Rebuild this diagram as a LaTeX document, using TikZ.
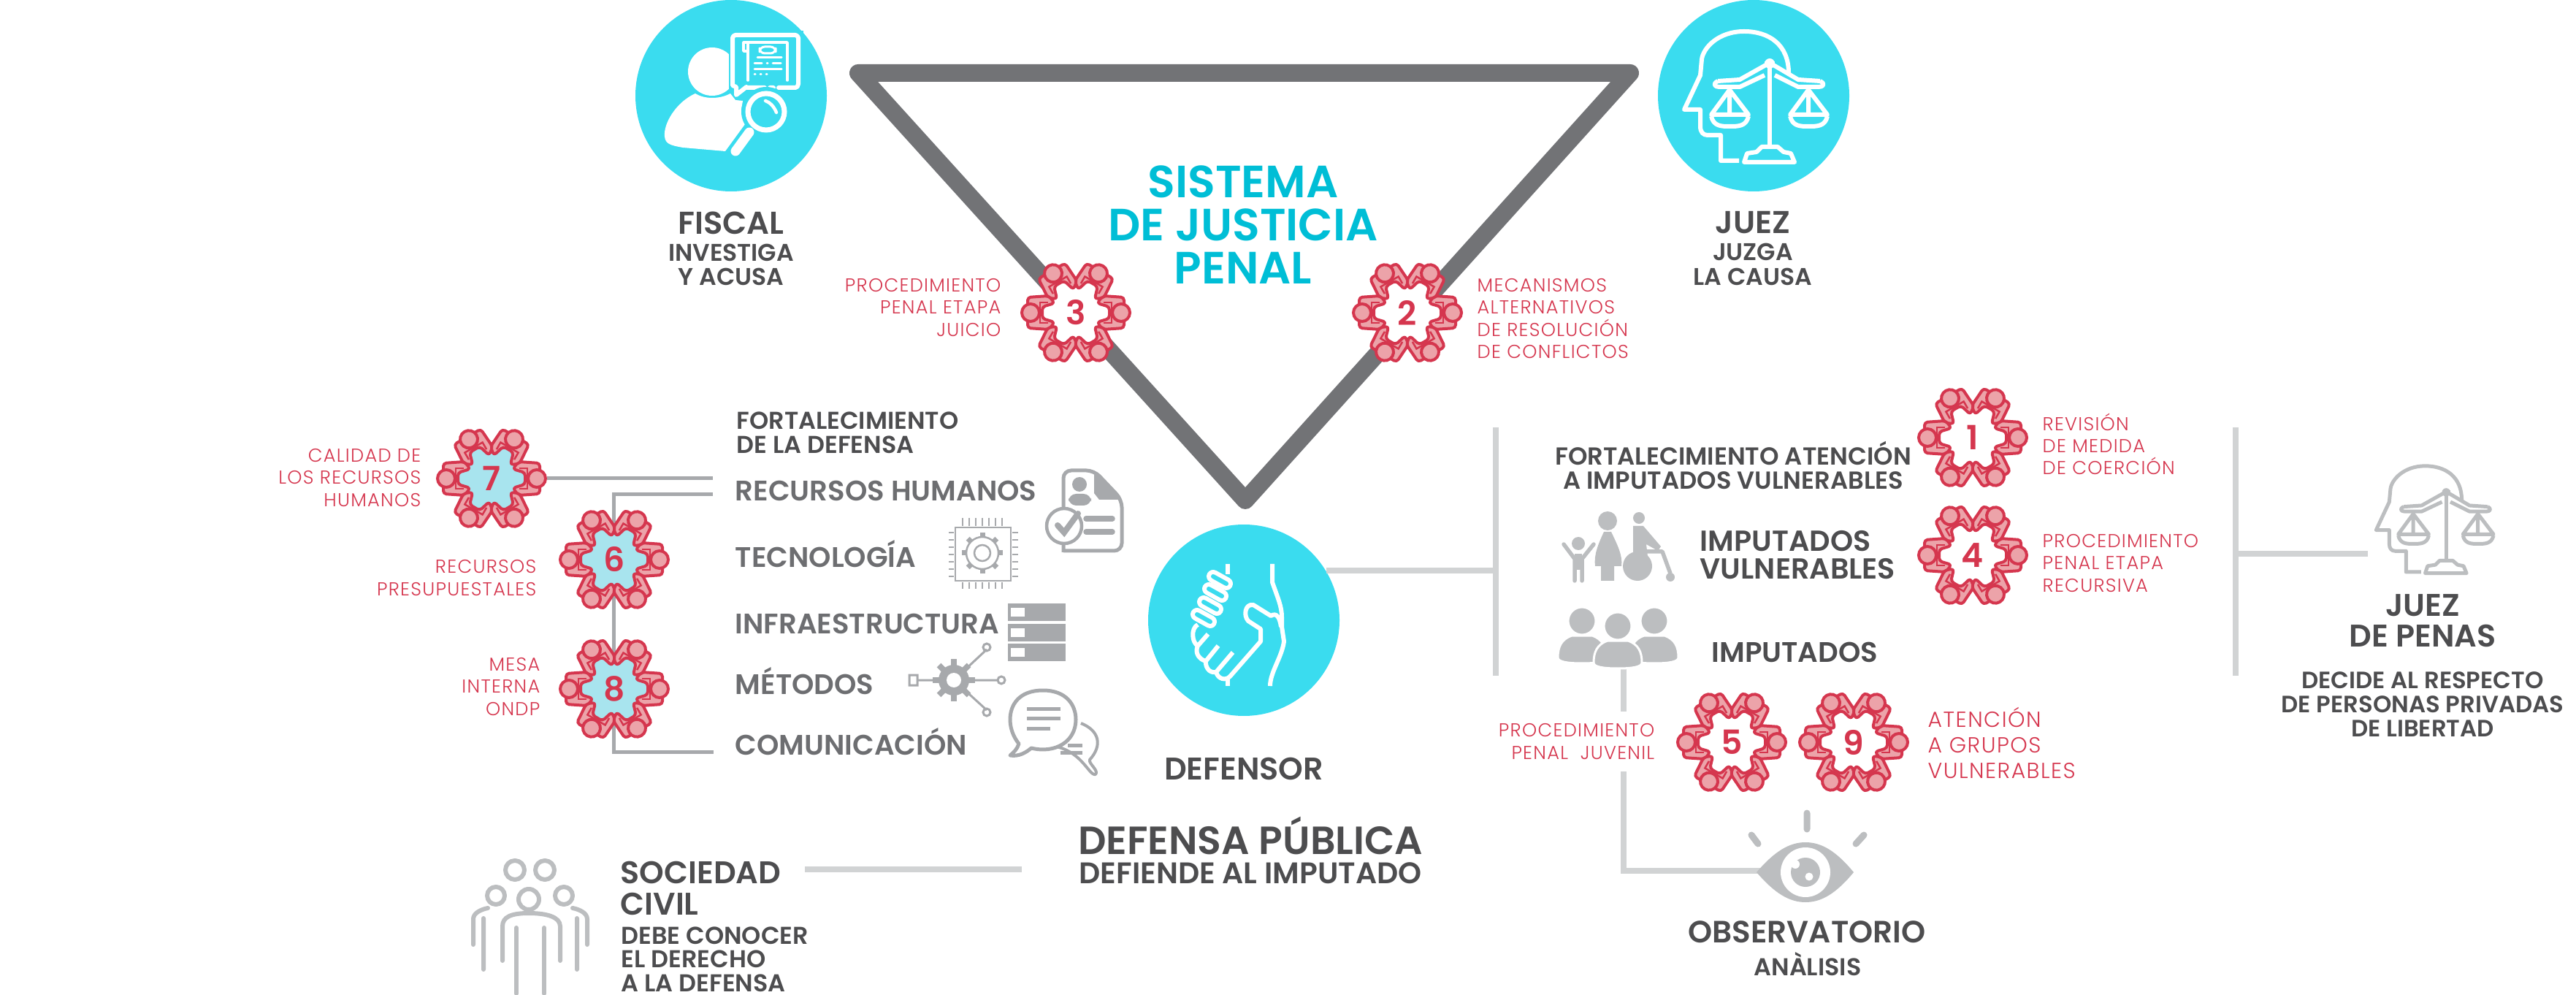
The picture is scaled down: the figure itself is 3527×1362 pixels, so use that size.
\documentclass[tikz,border=0pt]{standalone}
\usepackage{fontspec}
\setmainfont{Poppins}
\newfontfamily\medio{Poppins SemiBold}
\newfontfamily\fino[LetterSpace=5]{Poppins Light}
\usetikzlibrary{calc,positioning}
\definecolor{cian}{RGB}{58,220,239}
\definecolor{cianosc}{RGB}{0,190,214}
\definecolor{grisbase}{RGB}{114,115,118}
\definecolor{rojo}{RGB}{213,54,78}
\definecolor{rosa}{RGB}{236,163,169}
\definecolor{cianclaro}{RGB}{168,228,238}
\definecolor{barra}{RGB}{209,211,212}
\definecolor{grismedio}{RGB}{167,169,172}
\definecolor{grisicono}{RGB}{188,190,192}
\definecolor{textoosc}{RGB}{77,77,79}
\definecolor{textomed}{RGB}{109,110,113}
\newcommand{\fuente}[2]{\fontsize{#1}{#2}\selectfont}
\tikzset{
    circulo/.style={circle, fill=cian, minimum size=26.2mm, inner sep=0},
    triangulo/.style={draw=grisbase, line width=2.4mm, line join=round},
    linea/.style={draw=barra, line width=0.8mm},
    lineaosc/.style={draw=grismedio, line width=0.5mm},
    titulo/.style={text=textoosc, inner sep=0, align=center, font=\medio\fuente{#1}{#1}},
    etiqueta/.style={text=rojo, inner sep=0, font=\fino\fuente{7.3}{8.6}},
    rama/.style={text=textomed, inner sep=0, anchor=base west, font=\medio\fuente{11}{11}},
    sellonum/.style={circle, minimum size=15mm, inner sep=0, text=rojo,
                     font=\medio\fuente{13}{13}},
    blanco/.style={draw=white, line width=0.6mm, line cap=round, line join=round},
    gris/.style={draw=grisicono, line width=0.6mm, line cap=round, line join=round},
    sello/.pic={
        \fill[#1] (0,0) circle (45);
        \foreach \a in {0,60,...,300}{
            \begin{scope}[rotate=\a]
                \draw[draw=rojo, fill=rosa, line width=0.4mm, rounded corners=1.2pt, line join=round]
                    (66,-21) -- (37,-23) -- (29,-13) -- (46,-8) -- (46,8) -- (29,13)
                    -- (37,23) -- (66,21) -- cycle;
                \draw[draw=rojo, line width=0.25mm] (38,-14) -- (49,-14) -- (49,14) -- (38,14);
                \draw[draw=rojo, fill=rosa, line width=0.4mm] (62,0) circle (12);
            \end{scope}
        }
    },
    balanza/.pic={
        \begin{scope}[draw=#1, line cap=butt, line join=round]
            \draw (47,-31) .. controls (47,-70) and (20,-88) .. (-14,-88)
                .. controls (-50,-88) and (-70,-65) .. (-72,-50)
                -- (-74,-28) -- (-96,19) -- (-74,19) -- (-74,42)
                .. controls (-74,50) and (-70,54) .. (-64,54) -- (-46,54) -- (-46,89) -- (-21,89);
            \draw (14,-44) -- (28,-44) (21,-44) -- (21,70);
            \draw (21,-45) -- (-20,-22) -- (-50,-20) (-50,-20) .. controls (-58,-16) and (-54,-12) .. (-48,-12)
                -- (-20,-12) -- (14,-28);
            \draw (21,-45) -- (60,-22) -- (90,-20) (90,-20) .. controls (98,-16) and (94,-12) .. (88,-12)
                -- (60,-12) -- (28,-28);
            \draw (-34,-8) -- (-59,26) -- (-8,26) -- cycle (-34,-8) -- (-34,26);
            \draw (-59,28) .. controls (-56,42) and (-45,42) .. (-34,42) .. controls (-22,42) and (-11,42) .. (-8,28);
            \draw (74,-8) -- (49,26) -- (100,26) -- cycle (74,-8) -- (74,26);
            \draw (49,28) .. controls (52,42) and (63,42) .. (74,42) .. controls (86,42) and (97,42) .. (100,28);
            \draw (-14,91) -- (-10,79) -- (3,77) -- (10,70) -- (32,70) -- (40,77) -- (50,79) -- (55,91) -- cycle;
        \end{scope}
        \fill[#1] (21,-44) circle (7);
    },
}
\begin{document}
\begin{tikzpicture}[x=0.1mm, y=-0.1mm]
    \useasboundingbox (0,0) rectangle (3527,1362);
    % triangulo
    \coordinate (vizq) at (1175,100);
    \coordinate (vder) at (2232,100);
    \coordinate (vabj) at (1705,685);
    \draw[triangulo] (vizq) -- (vder) -- (vabj) -- cycle;
    \node[text=cianosc, inner sep=0, align=center, font=\medio\fuente{17.6}{16.8}] (sistema) at (1702,308)
        {SISTEMA\\DE JUSTICIA\\PENAL};
    % circulos
    \node[circulo] (fiscal) at (1001,131) {};
    \node[circulo] (juez) at (2401,131) {};
    \node[circulo] (defensor) at (1703,849) {};
    % fiscal
    \fill[white] (975,98) circle (33);
    \fill[white] (952,128) .. controls (925,140) and (908,170) .. (910,187)
        .. controls (911,197) and (918,199) .. (935,202) -- (993,207) -- (1020,170) -- (1015,150)
        -- (1017,138) -- (1007,137) -- (1000,128) .. controls (985,136) and (965,136) .. (952,128);
    \fill[cian] (998,42) rectangle (1100,124);
    \draw[blanco] (1022,119) -- (1008,130) -- (1008,119) -- (1003,117) -- (1003,52)
        .. controls (1003,50) and (1005,48) .. (1007,48) -- (1089,48)
        .. controls (1091,48) and (1093,50) .. (1093,52) -- (1093,115)
        .. controls (1093,118) and (1091,120) .. (1089,120) -- (1066,120) (1059,120) -- (1054,120) (1047,120) -- (1022,120);
    \draw[blanco, line width=0.35mm] (1024,110) -- (1024,58) -- (1078,58) -- (1078,110)
        (1018,58) -- (1018,70) -- (1024,70) (1018,58) -- (1024,58);
    \draw[blanco, line width=0.3mm, rounded corners=2pt] (1040,64) rectangle (1062,73);
    \draw[blanco, line width=0.3mm] (1037,79) -- (1070,79) (1033,87) -- (1043,87) (1050,87) -- (1051,87)
        (1058,87) -- (1069,87) (1033,95) -- (1070,95) (1033,102) -- (1034,102) (1041,102) -- (1042,102) (1049,102) -- (1050,102);
    \fill[cian] (1049,153) circle (34);
    \draw[white, line width=0.7mm] (1049,153) circle (25);
    \draw[white, line width=1.3mm, line cap=round] (1026,181) -- (1007,207);
    \draw[blanco, line width=0.45mm] (1048,138) .. controls (1054,140) and (1060,146) .. (1063,154);
    % juez
    \begin{scope}[line width=0.6mm]
        \pic at (2402,131) {balanza=white};
    \end{scope}
    % defensor
    \begin{scope}[blanco, line cap=butt]
        \draw (1742,772) -- (1742,797) .. controls (1750,820) and (1755,830) .. (1755,845) -- (1755,858)
            -- (1758,878) .. controls (1755,900) and (1739,920) .. (1739,939);
        \draw (1681,772) -- (1681,786) (1681,927) -- (1681,939);
        \draw (1754,858) .. controls (1752,845) and (1748,838) .. (1740,843) -- (1716,828)
            .. controls (1705,826) and (1702,842) .. (1709,850) -- (1726,861) -- (1726,878) -- (1684,926)
            .. controls (1678,932) and (1668,930) .. (1665,920) -- (1688,893)
            (1665,920) .. controls (1655,922) and (1650,912) .. (1651,905) -- (1668,884)
            (1651,905) .. controls (1640,902) and (1636,892) .. (1640,884) -- (1654,868)
            (1640,884) .. controls (1632,880) and (1630,860) .. (1640,855);
    \end{scope}
    \foreach \x/\y in {1670/794,1664/811,1657/829,1648/846}{
        \draw[white, line width=1.8mm, line cap=round] (\x-9,\y-5) -- (\x+9,\y+5);
        \draw[cian, line width=0.6mm, line cap=round] (\x-9,\y-5) -- (\x+9,\y+5);
    }
    % conectores
    \coordinate (rhsup) at (976,655);
    \coordinate (rhinf) at (976,677);
    \coordinate (esqa) at (840,677);
    \coordinate (esqb) at (840,1029);
    \coordinate (comun) at (977,1029);
    \draw[lineaosc] (rhinf) -- (esqa) -- (esqb) -- (comun);
    \coordinate (bara) at (2048,585);
    \coordinate (barb) at (2048,925);
    \coordinate (barc) at (3061,585);
    \coordinate (bard) at (3061,925);
    \coordinate (penas) at (3242,758);
    \coordinate (barpenas) at (3061,758);
    \coordinate (socizq) at (1102,1190);
    \coordinate (socder) at (1399,1190);
    \coordinate (impa) at (2223,916);
    \coordinate (impb) at (2223,974);
    \coordinate (impc) at (2223,1056);
    \coordinate (impd) at (2223,1192);
    \coordinate (ojoizq) at (2410,1192);
    \draw[linea] (bara) -- (barb);
    \draw[linea] (barc) -- (bard);
    \draw[linea] (defensor.31) -- (defensor.31 -| bara);
    \draw[linea] (barpenas) -- (penas);
    \draw[linea] (socizq) -- (socder);
    \draw[linea] (impa) -- (impb);
    \draw[linea] (impc) -- (impd) -- (ojoizq);
    % sellos
    \foreach \n/\x/\y/\c in {1/2701/599/white,2/1927/428/white,3/1473/428/white,4/2701/760/white,
                             5/2371/1016/white,6/841/766/cianclaro,7/673/655/cianclaro,
                             8/841/943/cianclaro,9/2538/1016/white}{
        \pic at (\x,\y) {sello=\c};
        \node[sellonum] (s\n) at (\x,\y) {\n};
    }
    \draw[lineaosc] (s7) -- (rhsup);
    % textos superiores
    \node[titulo=12.3] (tfiscal) at (1001,305) {FISCAL};
    \node[titulo=9.4, font=\medio\fuente{9.4}{9.4}] (tinvestiga) at (1001,362) {INVESTIGA\\Y ACUSA};
    \node[titulo=12.3] (tjuez) at (2400,305) {JUEZ};
    \node[titulo=9.4, font=\medio\fuente{9.4}{9.6}] (tjuzga) at (2400,362) {JUZGA\\LA CAUSA};
    \node[etiqueta, align=right, anchor=east] (l3) at (1371,421) {PROCEDIMIENTO\\PENAL ETAPA\\JUICIO};
    \node[etiqueta, align=left, anchor=west] (l2) at (2022,436) {MECANISMOS\\ALTERNATIVOS\\DE RESOLUCIÓN\\DE CONFLICTOS};
    % ramas de la defensa
    \node[etiqueta, align=right, anchor=east] (l7) at (577,654) {CALIDAD DE\\LOS RECURSOS\\HUMANOS};
    \node[etiqueta, align=right, anchor=east] (l6) at (735,791) {RECURSOS\\PRESUPUESTALES};
    \node[etiqueta, align=right, anchor=east] (l8) at (740,940) {MESA\\INTERNA\\ONDP};
    \node[titulo=9, font=\medio\fuente{9.5}{9.4}, align=left, anchor=west] (tfort) at (1008,592) {FORTALECIMIENTO\\DE LA DEFENSA};
    \node[rama] (rrh) at (1006,686) {RECURSOS HUMANOS};
    \node[rama] (rtec) at (1006,776) {TECNOLOGÍA};
    \node[rama] (rinf) at (1006,867) {INFRAESTRUCTURA};
    \node[rama] (rmet) at (1006,950) {MÉTODOS};
    \node[rama] (rcom) at (1006,1033) {COMUNICACIÓN};
    % lado derecho
    \node[titulo=9, font=\medio\fuente{9.6}{9.2}] (tfa) at (2373,637) {FORTALECIMIENTO ATENCIÓN\\A IMPUTADOS VULNERABLES};
    \node[titulo=10, font=\medio\fuente{11.3}{10.8}, align=left, anchor=west] (tiv) at (2327,760) {IMPUTADOS\\VULNERABLES};
    \node[rama, text=textoosc] (timp) at (2343,907) {IMPUTADOS};
    \node[etiqueta, align=left, anchor=west] (l1) at (2796,608) {REVISIÓN\\DE MEDIDA\\DE COERCIÓN};
    \node[etiqueta, align=left, anchor=west] (l4) at (2796,771) {PROCEDIMIENTO\\PENAL ETAPA\\RECURSIVA};
    \node[etiqueta, align=right, anchor=east] (l5) at (2266,1015) {PROCEDIMIENTO\\PENAL\ \ JUVENIL};
    \node[etiqueta, align=left, anchor=west, font=\fino\fuente{8.5}{10}] (l9) at (2639,1017) {ATENCIÓN\\A GRUPOS\\VULNERABLES};
    \node[titulo=12, font=\medio\fuente{12.2}{12}] (tjp) at (3317,850) {JUEZ\\DE PENAS};
    \node[titulo=9, font=\medio\fuente{9.2}{9.4}] (tdec) at (3317,964) {DECIDE AL RESPECTO\\DE PERSONAS PRIVADAS\\DE LIBERTAD};
    % textos inferiores
    \node[titulo=12.2] (tdef) at (1703,1052) {DEFENSOR};
    \node[titulo=15.3] (tdp) at (1712,1144) {DEFENSA PÚBLICA};
    \node[titulo=11.6] (tda) at (1712,1195) {DEFIENDE AL IMPUTADO};
    \node[titulo=12, font=\medio\fuente{12.2}{12}, align=left, anchor=west] (tsoc) at (849,1216) {SOCIEDAD\\CIVIL};
    \node[titulo=9, font=\medio\fuente{9.5}{9.3}, align=left, anchor=west] (tdeb) at (850,1313) {DEBE CONOCER\\EL DERECHO\\A LA DEFENSA};
    \node[titulo=12] (tobs) at (2474,1276) {OBSERVATORIO};
    \node[titulo=9.5] (tana) at (2475,1320) {ANÀLISIS};
    % iconos grises de la defensa
    \draw[draw=grismedio, line width=0.5mm, rounded corners=3pt] (1456,756) -- (1456,644) -- (1498,644) -- (1536,684) -- (1536,754) -- (1456,754);
    \fill[grismedio] (1498,644) -- (1536,684) -- (1505,684) -- (1498,675) -- cycle;
    \fill[grismedio] (1478,663) circle (10);
    \fill[grismedio, rounded corners=3pt] (1463,676) rectangle (1494,692);
    \fill[white] (1457,720) circle (26);
    \draw[draw=grismedio, line width=0.45mm] (1457,720) circle (24);
    \draw[draw=grismedio, line width=0.8mm, line cap=round] (1448,719) -- (1457,729) -- (1476,703);
    \draw[draw=grismedio, line width=0.75mm, line cap=round] (1487,710) -- (1523,710) (1487,728) -- (1523,728);
    \draw[draw=grismedio, line width=0.25mm] (1308,722) rectangle (1384,795);
    \foreach \i in {0,...,6}{
        \draw[draw=grismedio, line width=0.25mm] (1318+\i*9,709) -- (1318+\i*9,720) (1318+\i*9,797) -- (1318+\i*9,806);
        \draw[draw=grismedio, line width=0.25mm] (1299,729+\i*10) -- (1306,729+\i*10) (1386,729+\i*10) -- (1394,729+\i*10);
    }
    \draw[draw=grismedio, line width=0.25mm] (1345,757) circle (11) (1345,757) circle (22);
    \foreach \a in {0,45,...,315}{
        \draw[draw=grismedio, line width=0.7mm] ($(1345,757)+(\a:22)$) -- ($(1345,757)+(\a:28)$);
    }
    \foreach \y in {826,854,881}{
        \fill[grismedio] (1380,\y) rectangle (1459,\y+24);
        \fill[white] (1384,\y+6) rectangle (1403,\y+18);
    }
    \draw[draw=grismedio, line width=0.3mm] (1306,931) -- (1351,889) (1306,931) -- (1366,931) (1306,931) -- (1351,972) (1306,931) -- (1250,931);
    \fill[white] (1245,924) rectangle (1256,938);
    \draw[draw=grismedio, line width=0.3mm] (1245,924) rectangle (1256,938) (1351,886) circle (5) (1371,931) circle (5) (1351,975) circle (5);
    \foreach \a in {0,45,...,315}{
        \draw[draw=grismedio, line width=0.8mm] ($(1306,931)+(\a:18)$) -- ($(1306,931)+(\a:29)$);
    }
    \fill[grismedio] (1306,931) circle (21);
    \fill[white] (1306,931) circle (10);
    \draw[draw=grismedio, line width=0.4mm, line join=round] (1428,1020) .. controls (1480,1020) and (1490,1063) .. (1500,1060)
        .. controls (1505,1055) and (1490,1045) .. (1492,1040) .. controls (1510,1020) and (1505,1000) .. (1480,990);
    \draw[draw=grismedio, fill=white, line width=0.5mm, line join=round] (1428,945) .. controls (1395,945) and (1383,965) .. (1383,985)
        .. controls (1383,1000) and (1390,1012) .. (1395,1018) .. controls (1393,1025) and (1388,1030) .. (1383,1034)
        .. controls (1395,1036) and (1405,1030) .. (1412,1024) .. controls (1445,1032) and (1473,1015) .. (1473,985)
        .. controls (1473,965) and (1460,945) .. (1428,945) -- cycle;
    \draw[draw=grismedio, line width=0.5mm] (1406,970) -- (1452,970) (1406,983) -- (1452,983) (1406,997) -- (1438,997) (1452,1030) -- (1482,1030) (1462,1020) -- (1482,1020);
    % iconos de imputados
    \fill[grisicono] (2201,713) circle (13);
    \fill[grisicono] (2196,728) -- (2206,728) .. controls (2214,745) and (2222,760) .. (2220,775) -- (2210,775) -- (2210,795) -- (2192,795) -- (2192,775) -- (2184,775) .. controls (2182,760) and (2188,745) .. (2196,728) -- cycle;
    \fill[grisicono] (2161,744) circle (9);
    \draw[draw=grisicono, line width=0.55mm, line join=round, line cap=round] (2141,745) -- (2156,765) -- (2156,795) (2182,745) -- (2166,765) -- (2166,795);
    \fill[grisicono] (2156,758) rectangle (2166,780);
    \fill[grisicono] (2244,709) circle (8);
    \fill[grisicono] (2236,720) -- (2250,720) -- (2274,748) -- (2270,754) -- (2254,745) -- (2256,762) -- (2236,760) -- cycle;
    \draw[draw=grisicono, line width=0.55mm, line join=round] (2254,755) -- (2276,755) -- (2287,785);
    \fill[grisicono] (2242,775) circle (20);
    \fill[grisicono] (2287,790) circle (6);
    \foreach \x/\y in {2166/850,2265/850,2215/857}{
        \fill[draw=white, line width=0.3mm, fill=grisicono] (\x,\y+58) .. controls (\x-20,\y+58) and (\x-33,\y+56) .. (\x-33,\y+50)
            .. controls (\x-33,\y+35) and (\x-28,\y+25) .. (\x-14,\y+20) -- (\x+14,\y+20)
            .. controls (\x+28,\y+25) and (\x+33,\y+35) .. (\x+33,\y+50) .. controls (\x+33,\y+56) and (\x+20,\y+58) .. (\x,\y+58) -- cycle;
        \fill[draw=white, line width=0.3mm, fill=grisicono] (\x,\y) circle (19);
    }
    % ojo
    \fill[grisicono] (2405,1194) .. controls (2430,1165) and (2450,1153) .. (2472,1153)
        .. controls (2494,1153) and (2514,1165) .. (2538,1194)
        .. controls (2514,1223) and (2494,1235) .. (2472,1235)
        .. controls (2450,1235) and (2430,1223) .. (2405,1194) -- cycle;
    \fill[white] (2472,1194) circle (34);
    \fill[grisicono] (2472,1194) circle (20);
    \fill[white] (2477,1200) circle (5.5) (2458,1183) circle (6);
    \draw[draw=grisicono, line width=0.9mm, line cap=round] (2474,1113) -- (2474,1135) (2398,1143) -- (2407,1155) (2552,1143) -- (2541,1155);
    % juez de penas
    \begin{scope}[line width=0.5mm]
        \pic[scale=0.82] at (3332,710) {balanza=grisicono};
    \end{scope}
    % sociedad civil
    \begin{scope}[gris]
        \draw (705,1191) circle (13) (746,1191) circle (13);
        \draw (679,1226) circle (12) (772,1226) circle (12);
        \draw (662,1327) -- (662,1257) (648,1293) -- (648,1258) .. controls (648,1250) and (658,1245) .. (668,1243);
        \draw (790,1327) -- (790,1257) (804,1293) -- (804,1258) .. controls (804,1250) and (794,1245) .. (784,1243);
        \fill[white] (724,1231) circle (17);
        \draw (724,1231) circle (14);
        \draw (707,1360) -- (707,1270) (745,1360) -- (745,1270);
        \draw (688,1315) -- (688,1268) .. controls (688,1255) and (700,1250) .. (724,1250)
            .. controls (748,1250) and (767,1255) .. (767,1268) -- (767,1315);
    \end{scope}
\end{tikzpicture}
\end{document}
